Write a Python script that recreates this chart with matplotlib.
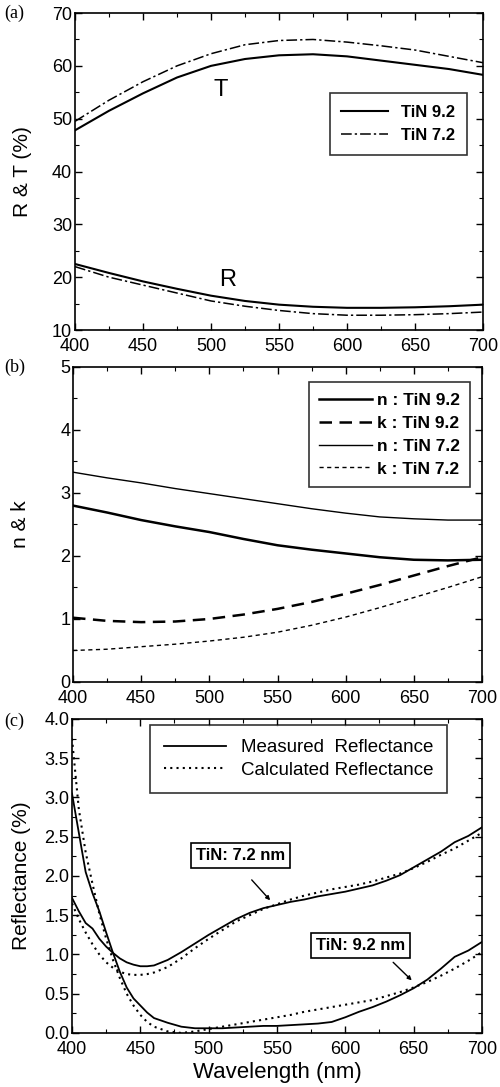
import matplotlib
matplotlib.use("Agg")
import matplotlib.pyplot as plt
from matplotlib.ticker import MultipleLocator, FormatStrFormatter

plt.rcParams.update({"font.family": ["Liberation Sans", "DejaVu Sans"],
                     "font.size": 13,
                     "xtick.direction": "in", "ytick.direction": "in",
                     "xtick.top": True, "ytick.right": True,
                     "xtick.major.size": 5, "ytick.major.size": 5,
                     "xtick.minor.size": 3, "ytick.minor.size": 3,
                     "xtick.major.width": 1.0, "ytick.major.width": 1.0,
                     "xtick.minor.width": 0.8, "ytick.minor.width": 0.8,
                     "axes.linewidth": 1.2})

# (a) R & T
wl_ab = [400, 425, 450, 475, 500, 525, 550, 575, 600, 625, 650, 675, 700]
T_92 = [47.8, 51.5, 54.8, 57.8, 60.0, 61.3, 62.0, 62.2, 61.8, 61.0, 60.2, 59.4, 58.3]
T_72 = [49.5, 53.5, 57.0, 60.0, 62.3, 64.0, 64.8, 65.0, 64.5, 63.8, 63.0, 61.8, 60.6]
R_92 = [22.5, 20.8, 19.2, 17.8, 16.5, 15.5, 14.8, 14.4, 14.2, 14.2, 14.3, 14.5, 14.8]
R_72 = [22.0, 20.0, 18.5, 17.0, 15.5, 14.5, 13.7, 13.1, 12.8, 12.8, 12.9, 13.1, 13.4]

# (b) n & k
n_92 = [2.80, 2.69, 2.57, 2.47, 2.38, 2.27, 2.17, 2.10, 2.04, 1.98, 1.94, 1.93, 1.94]
k_92 = [1.02, 0.97, 0.95, 0.96, 1.00, 1.07, 1.16, 1.27, 1.40, 1.54, 1.69, 1.84, 1.98]
n_72 = [3.33, 3.24, 3.16, 3.07, 2.99, 2.91, 2.83, 2.75, 2.68, 2.62, 2.59, 2.57, 2.57]
k_72 = [0.50, 0.52, 0.56, 0.60, 0.65, 0.71, 0.79, 0.90, 1.03, 1.18, 1.34, 1.50, 1.67]

# (c) reflectance, measured vs calculated
wl_c = [400, 405, 410, 415, 420, 425, 430, 435, 440, 445, 450, 455, 460, 470,
        480, 490, 500, 510, 520, 530, 540, 550, 560, 570, 580, 590, 600, 610,
        620, 630, 640, 650, 660, 670, 680, 690, 700]
meas_72 = [1.72, 1.55, 1.40, 1.33, 1.20, 1.10, 1.02, 0.95, 0.90, 0.87, 0.85,
           0.85, 0.86, 0.93, 1.03, 1.14, 1.25, 1.35, 1.45, 1.53, 1.59, 1.63,
           1.67, 1.70, 1.74, 1.77, 1.80, 1.84, 1.88, 1.94, 2.01, 2.11, 2.21,
           2.31, 2.43, 2.51, 2.62]
calc_72 = [1.65, 1.45, 1.28, 1.13, 1.00, 0.90, 0.83, 0.78, 0.75, 0.74, 0.74,
           0.75, 0.77, 0.84, 0.95, 1.08, 1.20, 1.31, 1.42, 1.50, 1.58, 1.64,
           1.70, 1.75, 1.79, 1.83, 1.86, 1.89, 1.93, 1.98, 2.03, 2.10, 2.18,
           2.27, 2.35, 2.45, 2.55]
meas_92 = [3.05, 2.55, 2.05, 1.78, 1.55, 1.28, 1.02, 0.78, 0.58, 0.44, 0.35,
           0.26, 0.19, 0.13, 0.08, 0.06, 0.06, 0.06, 0.07, 0.08, 0.09, 0.09,
           0.10, 0.11, 0.12, 0.14, 0.20, 0.27, 0.33, 0.40, 0.48, 0.57, 0.68,
           0.82, 0.97, 1.05, 1.16]
calc_92 = [3.75, 2.85, 2.30, 1.90, 1.52, 1.20, 0.93, 0.70, 0.50, 0.35, 0.23,
           0.14, 0.08, 0.02, 0.00, 0.02, 0.05, 0.08, 0.11, 0.14, 0.17, 0.20,
           0.23, 0.27, 0.30, 0.33, 0.36, 0.39, 0.42, 0.47, 0.52, 0.58, 0.65,
           0.73, 0.82, 0.92, 1.03]

DASHDOT = (0, (7, 2, 1.5, 2))

fig = plt.figure(figsize=(5.0, 10.87), dpi=100)
axa = fig.add_axes([0.150, 0.6964, 0.816, 0.2916])
axb = fig.add_axes([0.146, 0.3726, 0.818, 0.2898])
axc = fig.add_axes([0.144, 0.0497, 0.820, 0.2889])

# ---- (a)
axa.plot(wl_ab, T_92, color="k", lw=1.5, label="TiN 9.2")
axa.plot(wl_ab, T_72, color="k", lw=1.1, ls=DASHDOT, label="TiN 7.2")
axa.plot(wl_ab, R_92, color="k", lw=1.5)
axa.plot(wl_ab, R_72, color="k", lw=1.1, ls=DASHDOT)
axa.set_ylim(10, 70)
axa.yaxis.set_major_locator(MultipleLocator(10))
axa.yaxis.set_minor_locator(MultipleLocator(5))
axa.set_ylabel("R & T (%)", fontsize=15)
axa.yaxis.set_label_coords(-0.105, 0.5)
axa.text(507, 55.5, "T", fontsize=17, ha="center", va="center")
axa.text(512, 19.4, "R", fontsize=17, ha="center", va="center")
leg = axa.legend(loc="upper right", bbox_to_anchor=(0.961, 0.748),
                 borderaxespad=0, fancybox=False, edgecolor="k",
                 handlelength=2.8, borderpad=0.7, labelspacing=0.5,
                 prop=dict(weight="bold", size=12))
leg.get_frame().set_linewidth(1.2)

# ---- (b)
axb.plot(wl_ab, n_92, color="k", lw=1.8, label="n : TiN 9.2")
axb.plot(wl_ab, k_92, color="k", lw=1.8, ls=(0, (5, 3)), label="k : TiN 9.2")
axb.plot(wl_ab, n_72, color="k", lw=1.0, label="n : TiN 7.2")
axb.plot(wl_ab, k_72, color="k", lw=1.0, ls=(0, (3, 2.5)), label="k : TiN 7.2")
axb.set_ylim(0, 5)
axb.yaxis.set_major_locator(MultipleLocator(1))
axb.yaxis.set_minor_locator(MultipleLocator(0.5))
axb.set_ylabel("n & k", fontsize=15)
axb.yaxis.set_label_coords(-0.105, 0.5)
leg = axb.legend(loc="upper right", bbox_to_anchor=(0.971, 0.952),
                 borderaxespad=0, fancybox=False, edgecolor="k",
                 handlelength=3.0, borderpad=0.6, labelspacing=0.45,
                 handletextpad=0.3, prop=dict(weight="bold", size=12.5))
leg.get_frame().set_linewidth(1.2)

# ---- (c)
axc.plot(wl_c, meas_72, color="k", lw=1.3, label="Measured  Reflectance")
axc.plot(wl_c, calc_72, color="k", lw=1.5, ls=(0, (1, 2)),
         label="Calculated Reflectance")
axc.plot(wl_c, meas_92, color="k", lw=1.3)
axc.plot(wl_c, calc_92, color="k", lw=1.5, ls=(0, (1, 2)))
axc.set_ylim(0, 4.0)
axc.yaxis.set_major_locator(MultipleLocator(0.5))
axc.yaxis.set_minor_locator(MultipleLocator(0.25))
axc.yaxis.set_major_formatter(FormatStrFormatter("%.1f"))
axc.set_ylabel("Reflectance (%)", fontsize=15)
axc.yaxis.set_label_coords(-0.1, 0.5)
axc.set_xlabel("Wavelength (nm)", fontsize=16, labelpad=3)
leg = axc.legend(loc="upper right", bbox_to_anchor=(0.915, 0.981),
                 borderaxespad=0, fancybox=False, edgecolor="k",
                 handlelength=3.3, borderpad=0.75, labelspacing=0.3,
                 prop=dict(size=13.5))
leg.get_frame().set_linewidth(1.2)

box = dict(boxstyle="square,pad=0.3", fc="white", ec="k", lw=1.2)
arr = dict(arrowstyle="-|>", color="k", lw=1.0, mutation_scale=6,
           shrinkA=0, shrinkB=0)
axc.annotate("", xy=(545, 1.69), xytext=(531.5, 1.95), arrowprops=arr)
axc.text(523, 2.26, "TiN: 7.2 nm", fontsize=12, weight="bold",
         ha="center", va="center", bbox=box)
axc.annotate("", xy=(648.6, 0.67), xytext=(635, 0.90), arrowprops=arr)
axc.text(611, 1.12, "TiN: 9.2 nm", fontsize=12, weight="bold",
         ha="center", va="center", bbox=box)

for ax in (axa, axb, axc):
    ax.set_xlim(400, 700)
    ax.xaxis.set_major_locator(MultipleLocator(50))
    ax.xaxis.set_minor_locator(MultipleLocator(25))
    ax.tick_params(which="both", labelsize=13, pad=2)
    ax.tick_params(axis="x", which="both", pad=6)

for lab, y in (("(a)", 0.988), ("(b)", 0.6624), ("(c)", 0.336)):
    fig.text(0.008, y, lab, fontsize=13, family=["Liberation Serif", "DejaVu Serif"],
             ha="left", va="center")

fig.savefig("out.png", dpi=100)
